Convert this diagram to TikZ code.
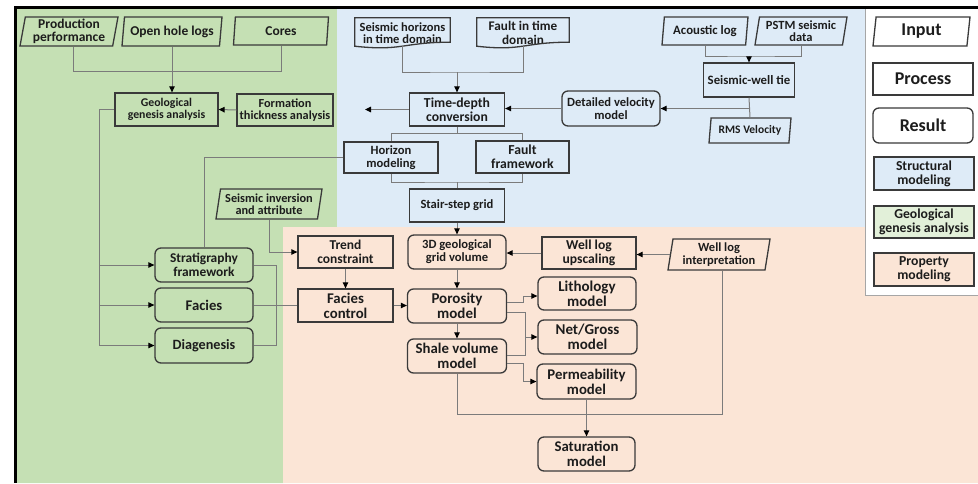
\documentclass[tikz,border=0pt]{standalone}
\usepackage{fontspec}
\setmainfont{Carlito}
\usetikzlibrary{arrows.meta,shapes.geometric,calc}
\definecolor{gbg}{HTML}{C5E0B4}
\definecolor{bbg}{HTML}{DEEBF7}
\definecolor{pbg}{HTML}{FBE5D6}
\definecolor{lgbg}{HTML}{E2F0D9}
\definecolor{edgec}{HTML}{3A3A3A}
\definecolor{connc}{HTML}{7B7B7B}
\definecolor{txtc}{HTML}{1C1C1C}
\tikzset{
  fs/.style 2 args={font=\fontsize{#1}{#2}\selectfont\bfseries},
  sz/.style 2 args={minimum width=#1pt, minimum height=#2pt},
  base/.style={draw=edgec, line width=1.3pt, inner sep=0pt, align=center, text=txtc},
  proc/.style={base, rectangle},
  res/.style={base, rectangle, rounded corners=6pt},
  inp/.style={base, trapezium, trapezium left angle=78, trapezium right angle=102, trapezium stretches body},
  docn/.style={inner sep=0pt, align=center, text=txtc, rectangle},
  docline/.style={draw=edgec, line width=1.3pt},
  conn/.style={draw=connc, line width=1pt},
  arr/.style={conn, -{Triangle[length=6pt,width=5.5pt,color=black]}},
}
\newcommand\docoutline[2]{%
  \draw[docline] (#1.north west) -- (#1.north east) -- ($(#1.south east)+(0,{-0.2*#2})$)
    .. controls ($(#1.south)+(0,{-0.2*#2})$) and ($(#1.south)+(0,{0.107*#2})$) ..
    ($(#1.south west)+(0,{-0.066*#2})$) -- cycle;}
\begin{document}
\begin{tikzpicture}[x=1pt,y=-1pt]
\useasboundingbox (0,0) rectangle (978,483);
% backgrounds
\fill[white] (0,0) rectangle (978,483);
\fill[gbg] (17,8) -- (337,8) -- (337,227) -- (283,227) -- (283,483) -- (17,483) -- cycle;
\fill[bbg] (337,8) rectangle (865,227);
\fill[pbg] (283,227) -- (865,227) -- (865,295) -- (978,295) -- (978,483) -- (283,483) -- cycle;
\draw[draw=gray!70, line width=1pt] (865,8) -- (865,295) -- (978,295);
\fill[black] (14,5.5) rectangle (978,8.5);
\fill[black] (14,5.5) rectangle (17,483);

% green region
\node[inp, sz={98}{29}, fs={13.5}{13.5}] (prod) at (69,31.5) {Production\\performance};
\node[inp, sz={100}{29}, fs={13.5}{13.5}] (ohl) at (172,31.5) {Open hole logs};
\node[inp, sz={95}{28}, fs={13.5}{13.5}] (cores) at (281,31) {Cores};
\node[proc, sz={103}{33}, fs={11.8}{12.2}] (gga) at (166.5,109.5) {Geological\\genesis analysis};
\node[proc, sz={96}{32}, fs={12.3}{12.5}] (fta) at (285,110) {Formation\\thickness analysis};
\node[inp, sz={106}{30}, fs={12.3}{12.5}] (sia) at (269,204) {Seismic inversion\\and attribute};
\node[res, sz={98}{34}, fs={13.4}{13.5}] (strat) at (204,265) {Stratigraphy\\framework};
\node[res, sz={98}{34}, fs={14.7}{14.7}] (facies) at (204,305) {Facies};
\node[res, sz={98}{35}, fs={14.2}{14.2}] (diag) at (204,345.5) {Diagenesis};

% blue region
\node[docn, sz={95}{30}, fs={12.5}{12.5}] (shd) at (402.5,33) {Seismic horizons\\in time domain};
\docoutline{shd}{30}
\node[docn, sz={92}{30}, fs={13.2}{13.2}] (ftd) at (523,33) {Fault in time\\domain};
\docoutline{ftd}{30}
\node[proc, sz={95}{33}, fs={13.7}{14}] (tdc) at (457,109.5) {Time-depth\\conversion};
\node[res, sz={98}{35}, fs={12.6}{13}] (dvm) at (611,108.5) {Detailed velocity\\model};
\node[inp, sz={86}{28}, fs={12.8}{12.8}] (acl) at (705,31) {Acoustic log};
\node[inp, sz={92}{28}, fs={12.5}{12.3}] (pstm) at (801,31) {PSTM seismic\\data};
\node[proc, sz={91}{34}, fs={12.8}{12.8}] (swt) at (749,80) {Seismic-well tie};
\node[inp, sz={82}{25}, fs={11.5}{11.5}] (rms) at (750,130.5) {RMS Velocity};
\node[proc, sz={94}{31}, fs={12.6}{13}] (hm) at (391,157.5) {Horizon\\modeling};
\node[proc, sz={93}{32}, fs={13.7}{13.7}] (ff) at (522.5,157) {Fault\\framework};
\node[proc, sz={95}{33}, fs={12.6}{12.6}] (ssg) at (457,205.5) {Stair-step grid};

% pink region
\node[res, sz={98}{34}, fs={12.6}{13}] (g3d) at (457,252) {3D geological\\grid volume};
\node[proc, sz={94}{32}, fs={13.6}{13.6}] (wlu) at (589,253) {Well log\\upscaling};
\node[inp, sz={102}{31}, fs={12.5}{12.8}] (wli) at (719,254.5) {Well log\\interpretation};
\node[proc, sz={95}{32}, fs={13.5}{13.5}] (tc) at (345.5,252) {Trend\\constraint};
\node[proc, sz={95}{33}, fs={14.8}{14.8}] (fc) at (345.5,305.5) {Facies\\control};
\node[res, sz={99}{34}, fs={15}{15}] (por) at (457,306) {Porosity\\model};
\node[res, sz={98}{33}, fs={15}{15}] (lith) at (587,293.5) {Lithology\\model};
\node[res, sz={99}{34}, fs={15}{15}] (ng) at (587.5,337) {Net/Gross\\model};
\node[res, sz={99}{34}, fs={14.8}{15}] (shale) at (457,356) {Shale volume\\model};
\node[res, sz={99}{35}, fs={14.8}{15}] (perm) at (586.5,381.5) {Permeability\\model};
\node[res, sz={97}{34}, fs={14.8}{15}] (sat) at (586.5,454) {Saturation\\model};

% legend
\node[inp, fill=white, sz={97}{29}, fs={18}{18}] (lin) at (921.5,31.5) {Input};
\node[proc, fill=white, sz={100}{32}, fs={18}{18}] (lpr) at (923,79) {Process};
\node[res, fill=white, sz={100}{35}, fs={18}{18}] (lre) at (923,125.5) {Result};
\node[proc, fill=bbg, sz={100}{33}, fs={13.7}{13.7}] (lsm) at (924,173.5) {Structural\\modeling};
\node[proc, fill=lgbg, sz={100}{32}, fs={13.7}{13.7}] (lgg) at (924,222) {Geological\\genesis analysis};
\node[proc, fill=pbg, sz={100}{33}, fs={13.7}{13.7}] (lpm) at (924,269.5) {Property\\modeling};

% connectors: green
\draw[conn] ([xshift=4pt]prod.south) |- (cores.south |- 0,71) -- (cores.south);
\draw[arr] (ohl.south) -- (ohl.south |- gga.north);
\draw[arr] (fta.west) -- (gga.east);
\coordinate (gl) at (99,0);
\draw[conn] (gga.west) -| (gl |- diag.west);
\draw[arr] (gl |- strat.west) -- (strat.west);
\draw[arr] (gl |- facies.west) -- (facies.west);
\draw[arr] (gl |- diag.west) -- (diag.west);
\coordinate (gr) at (276,0);
\draw[conn] (strat.east) -| (gr |- diag.east) -- (diag.east);
\draw[conn] (facies.east) -- (fc.west |- facies.east);
\draw[conn] (hm.west) -| (strat.north);
\draw[arr] (sia.south) |- (tc.west);
\draw[arr] (tc.south) -- (fc.north);
\draw[arr] (fc.east) -- (por.west |- fc.east);

% connectors: blue
\coordinate (j1) at (457,72);
\draw[conn] ([yshift=2pt]shd.south) |- (j1) -| ([yshift=2pt]ftd.south);
\draw[arr] (j1) -- (tdc.north);
\coordinate (tdcl) at (365,109.5);
\draw[arr] (tdc.west) -- (tdcl);
\draw[arr] (dvm.west) -- (tdc.east |- dvm.west);
\coordinate (j2) at (749,56);
\draw[conn] (acl.south) |- (j2) -| (pstm.south);
\draw[arr] (j2) -- (swt.north);
\draw[conn] (swt.south) -- (rms.north);
\draw[arr] (swt.south |- dvm.east) -- (dvm.east);
\draw[conn] (tdc.south) -- ++(0,7) coordinate (j3);
\draw[conn] (hm.north) |- (j3) -| (ff.north);
\coordinate (j4) at (457,182);
\draw[conn] (hm.south) |- (j4) -| (ff.south);
\draw[conn] (j4) -- (ssg.north);

% connectors: pink
\draw[arr] (ssg.south) -- (g3d.north);
\draw[arr] (wlu.west) -- (g3d.east |- wlu.west);
\draw[arr] (wli.west) -- (wlu.east |- wli.west);
\draw[arr] (g3d.south) -- (por.north);
\draw[arr] (por.south) -- (shale.north);
\draw[arr] (por.east |- 0,302) -- (523,302) |- (lith.west |- 0,296);
\draw[arr] (por.east |- 0,312) -- (525,312) |- (ng.west);
\draw[conn] (shale.east |- 0,355) -| (525,337);
\draw[arr] (shale.east |- 0,363) -- (523,363) |- (perm.west);
\coordinate (wlib) at ([xshift=3pt]wli.south);
\draw[conn] (shale.south) |- (wlib |- 0,414) -- (wlib);
\draw[arr] (perm.south) -- (sat.north);
\end{tikzpicture}
\end{document}
